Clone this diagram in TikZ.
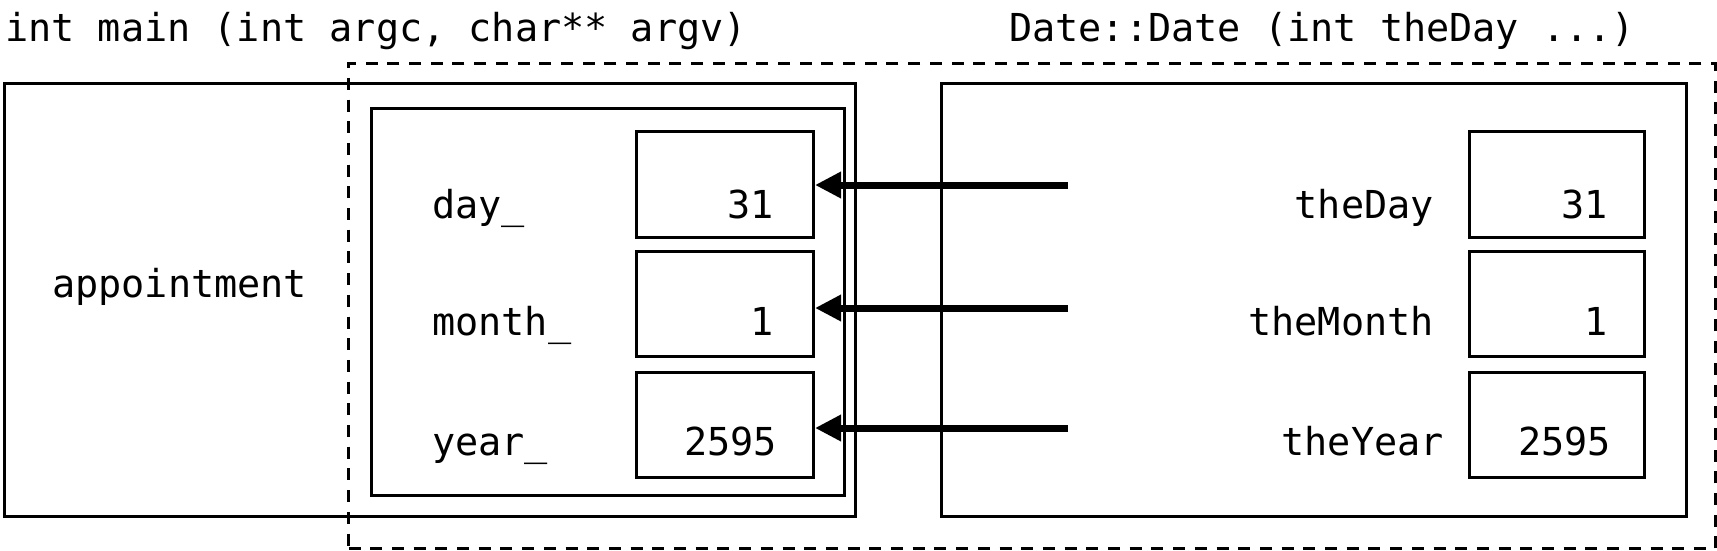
\documentclass[tikz,border=0pt]{standalone}
\usepackage{fontspec}
\setmonofont{DejaVu Sans Mono}
\usetikzlibrary{arrows.meta}
\begin{document}
\begin{tikzpicture}[x=1pt,y=-1pt,
  box/.style={draw, line width=3pt, inner sep=0pt, anchor=north west},
  dbox/.style={draw, line width=3pt, dash pattern=on 12pt off 9.7pt, inner sep=0pt, anchor=north west},
  txt/.style={font=\ttfamily\fontsize{38.5}{46}\selectfont, inner sep=0pt},
  arr/.style={line width=7pt, -{Triangle[length=26pt,width=25pt]}}]
\useasboundingbox (0,0) rectangle (1717,550);
% titles
\node[txt, anchor=base west] (t1) at (5,41.7) {int main (int argc, char** argv)};
\node[txt, anchor=base west] (t2) at (1009,41.7) {Date::Date (int theDay ...)};
% dashed frame
\node[dbox, minimum width=1367pt, minimum height=485pt] (frame) at (347,62) {};
% left: main
\node[box, minimum width=851pt, minimum height=433pt] (mainbox) at (2.5,82) {};
\node[box, minimum width=473pt, minimum height=387pt] (obj) at (370,107) {};
\node[box, minimum width=177pt, minimum height=106pt] (v1) at (635,130) {};
\node[box, minimum width=177pt, minimum height=105pt] (v2) at (635,250) {};
\node[box, minimum width=177pt, minimum height=105pt] (v3) at (635,371) {};
\node[txt, anchor=base west] (appt) at (52,297) {appointment};
\node[txt, anchor=base west] (l1) at (432,218) {day\_};
\node[txt, anchor=base west] (l2) at (432,335) {month\_};
\node[txt, anchor=base west] (l3) at (432,455) {year\_};
\node[txt, anchor=base east] (n1) at (774,218) {31};
\node[txt, anchor=base east] (n2) at (774,335) {1};
\node[txt, anchor=base east] (n3) at (777,455) {2595};
% right: Date::Date
\node[box, minimum width=745pt, minimum height=433pt] (datebox) at (940,82) {};
\node[box, minimum width=175pt, minimum height=106pt] (w1) at (1468,130) {};
\node[box, minimum width=175pt, minimum height=105pt] (w2) at (1468,250) {};
\node[box, minimum width=175pt, minimum height=105pt] (w3) at (1468,371) {};
\node[txt, anchor=base east] (r1) at (1434,218) {theDay};
\node[txt, anchor=base east] (r2) at (1434,335) {theMonth};
\node[txt, anchor=base east] (r3) at (1444,455) {theYear};
\node[txt, anchor=base east] (m1) at (1608,218) {31};
\node[txt, anchor=base east] (m2) at (1608,335) {1};
\node[txt, anchor=base east] (m3) at (1611,455) {2595};
% arrows
\coordinate (s1) at (1068,185);
\coordinate (s2) at (1068,308);
\coordinate (s3) at (1068,428);
\draw[arr] (s1) -- (s1 -| v1.east);
\draw[arr] (s2) -- (s2 -| v2.east);
\draw[arr] (s3) -- (s3 -| v3.east);
\end{tikzpicture}
\end{document}
